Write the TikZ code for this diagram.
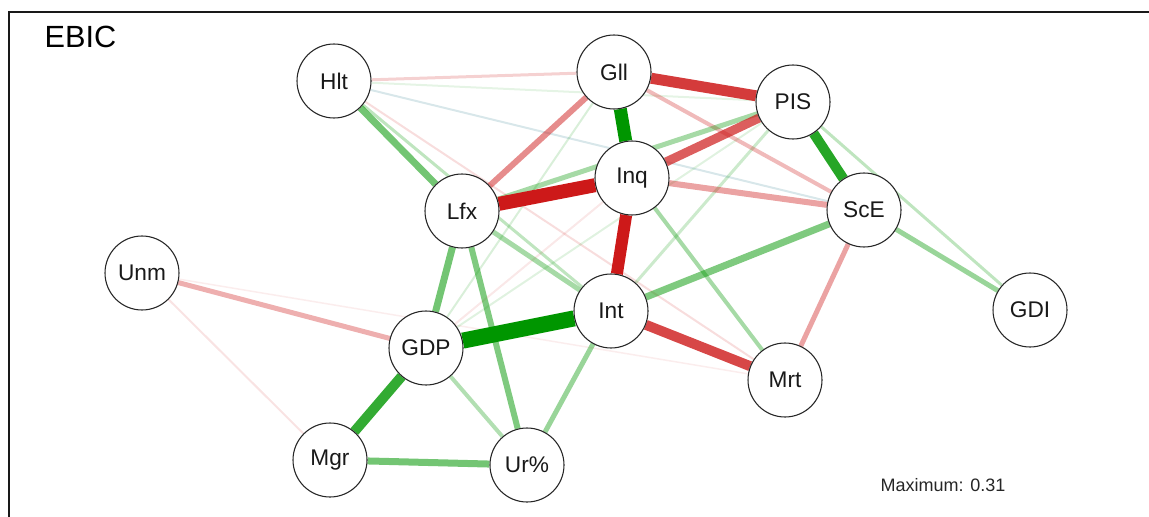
\documentclass[tikz,border=0pt]{standalone}
\usepackage{fontspec}
\setmainfont{Liberation Sans}
\usetikzlibrary{backgrounds}
\definecolor{posc}{RGB}{0,150,0}
\definecolor{negc}{RGB}{205,25,25}
\definecolor{faintc}{RGB}{190,215,220}
\begin{document}
\begin{tikzpicture}[x=0.75pt,y=-0.75pt,
  var/.style={circle,draw=black!85,line width=0.8pt,fill=white,
    minimum size=55.5pt,inner sep=0pt,text=black!90,
    font=\fontsize{17}{17}\selectfont},
  pos/.style 2 args={draw=posc,line width=#1*0.75pt,draw opacity=#2},
  neg/.style 2 args={draw=negc,line width=#1*0.75pt,draw opacity=#2}]
\useasboundingbox (0,0) rectangle (1149,517);
% panel frame
\draw[line width=1.5pt,black!90] (9,517) -- (9,12) -- (1149,12);
\node[anchor=base west,font=\fontsize{23}{23}\selectfont] (title) at (40,48) {EBIC};
\node[anchor=base east,font=\fontsize{13.5}{13.5}\selectfont,text=black!85] (maxlab) at (1010,491) {Maximum: 0.31};

% variables
\node[var] (Hlt) at (334,81) {Hlt};
\node[var] (Gll) at (614,72) {Gll};
\node[var] (PIS) at (793,102) {PIS};
\node[var] (Inq) at (632,178) {Inq};
\node[var] (Lfx) at (462,211) {Lfx};
\node[var] (ScE) at (864,210) {ScE};
\node[var] (Unm) at (142,273) {Unm};
\node[var] (Int) at (611,311) {Int};
\node[var] (GDI) at (1030,310) {GDI};
\node[var] (GDP) at (426,348) {GDP};
\node[var] (Mrt) at (785,380) {Mrt};
\node[var] (Mgr) at (330,460) {Mgr};
\node[var] (Ur) at (527,465) {Ur\%};

% partial correlations, weakest first
\begin{scope}[on background layer]
  \draw[draw=faintc,line width=1.5pt,draw opacity=0.6] (Hlt) -- (ScE);
  \draw[neg={1.5}{0.08}] (Unm) -- (Mrt);
  \draw[neg={2}{0.12}] (Unm) -- (Mgr);
  \draw[neg={2}{0.10}] (GDP) -- (Inq);
  \draw[neg={2}{0.15}] (Hlt) -- (Mrt);
  \draw[pos={2}{0.10}] (Hlt) -- (PIS);
  \draw[pos={2}{0.12}] (GDP) -- (PIS);
  \draw[pos={2}{0.15}] (Gll) -- (GDP);
  \draw[pos={3}{0.20}] (PIS) -- (Int);
  \draw[pos={3}{0.25}] (Hlt) -- (Int);
  \draw[pos={3}{0.25}] (PIS) -- (GDI);
  \draw[neg={3}{0.20}] (Hlt) -- (Gll);
  \draw[pos={4}{0.30}] (GDP) -- (Ur);
  \draw[pos={4}{0.35}] (Inq) -- (Mrt);
  \draw[neg={4}{0.30}] (Gll) -- (ScE);
  \draw[pos={5}{0.35}] (PIS) -- (Lfx);
  \draw[pos={5}{0.35}] (Lfx) -- (Int);
  \draw[pos={5}{0.40}] (ScE) -- (GDI);
  \draw[pos={5}{0.40}] (Int) -- (Ur);
  \draw[neg={5}{0.35}] (Unm) -- (GDP);
  \draw[neg={5}{0.40}] (ScE) -- (Mrt);
  \draw[neg={6}{0.40}] (Inq) -- (ScE);
  \draw[neg={6}{0.50}] (Gll) -- (Lfx);
  \draw[pos={6}{0.50}] (Lfx) -- (Ur);
  \draw[pos={7}{0.50}] (Int) -- (ScE);
  \draw[pos={7}{0.55}] (Hlt) -- (Lfx);
  \draw[pos={7}{0.55}] (Lfx) -- (GDP);
  \draw[pos={7}{0.55}] (Mgr) -- (Ur);
  \draw[neg={9}{0.70}] (Inq) -- (PIS);
  \draw[neg={10}{0.80}] (Int) -- (Mrt);
  \draw[pos={10}{0.80}] (GDP) -- (Mgr);
  \draw[pos={10}{0.85}] (PIS) -- (ScE);
  \draw[neg={11}{0.85}] (Gll) -- (PIS);
  \draw[neg={12}{1.00}] (Inq) -- (Int);
  \draw[pos={13}{1.00}] (Gll) -- (Inq);
  \draw[neg={14}{1.00}] (Inq) -- (Lfx);
  \draw[pos={16}{1.00}] (GDP) -- (Int);
\end{scope}
\end{tikzpicture}
\end{document}
